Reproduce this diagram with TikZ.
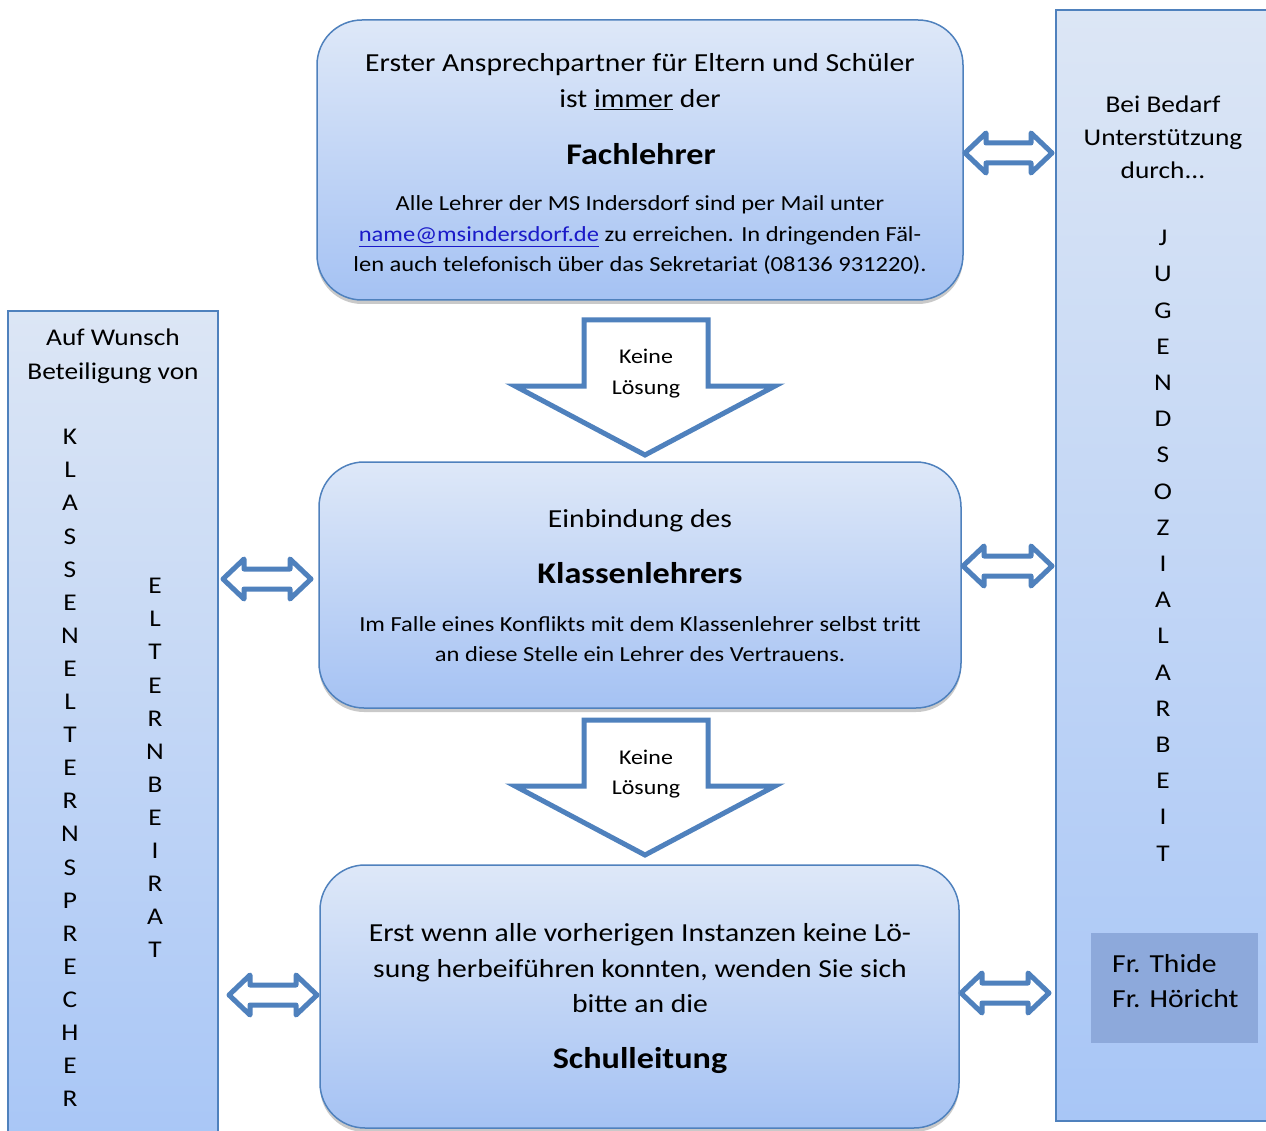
\documentclass[tikz,border=0pt]{standalone}
\usepackage{fontspec}
\setmainfont{Carlito}[FakeStretch=1.14]
\usetikzlibrary{shadows}
\definecolor{bordc}{HTML}{4F81BD}
\definecolor{topc}{HTML}{DEE8F8}
\definecolor{botc}{HTML}{A5C2F3}
\definecolor{ptopc}{HTML}{DCE6F5}
\definecolor{pbotc}{HTML}{A8C6F6}
\definecolor{frc}{HTML}{8DA9DB}
\definecolor{linkc}{HTML}{1A1AC8}
\newcommand{\fsz}[1]{\fontsize{#1}{#1}\selectfont}
\newcommand{\dblarr}[3]{%
  \draw[dblst] (#1,#3) -- ++(21,-20) -- ++(0,10) -- (#2-21,#3-10) -- ++(0,-10)
   -- (#2,#3) -- ++(-21,20) -- ++(0,-10) -- (#1+21,#3+10) -- ++(0,10) -- cycle;}
\begin{document}
\begin{tikzpicture}[x=1pt,y=-1pt,
  box/.style={draw=bordc, line width=1.5pt, rounded corners=45pt, top color=topc, bottom color=botc,
    drop shadow={shadow xshift=0pt, shadow yshift=-4pt, opacity=0.35, fill=black!60}, inner sep=0},
  panel/.style={draw=bordc, line width=1.3pt, top color=ptopc, bottom color=pbotc, inner sep=0},
  tx/.style={anchor=base, inner sep=0},
  big/.style={tx, font=\fsz{26}},
  bold/.style={tx, font=\fsz{30}\bfseries},
  small/.style={tx, font=\fsz{21.5}},
  kl/.style={tx, font=\fsz{21}},
  let/.style={inner sep=0, font=\fsz{24}},
  dblst/.style={draw=bordc, line width=5pt, line join=round, fill=white},
  downst/.style={draw=bordc, line width=5pt, line join=miter, fill=white}
]
\useasboundingbox (0,0) rectangle (1266,1131);
\fill[white] (0,0) rectangle (1266,1131);

% side panels
\node[panel, minimum width=210, minimum height=840] (lp) at (113,731) {};
\node[panel, minimum width=220, minimum height=1111] (rp) at (1166,565.5) {};
\node[fill=frc, minimum width=167, minimum height=110, inner sep=0] (fr) at (1174.5,988) {};

% main boxes
\node[box, minimum width=646, minimum height=280] (top) at (640,160) {};
\node[box, minimum width=642, minimum height=246] (mid) at (640,585) {};
\node[box, minimum width=639, minimum height=263] (bot) at (639.5,996.5) {};

% top box text
\node[big] (t1) at (640,72) {Erster Ansprechpartner für Eltern und Schüler};
\node[big] (t2) at (640,108) {ist \underline{immer} der};
\node[bold] (t3) at (641,165) {Fachlehrer};
\node[small] (t4) at (640,211) {Alle Lehrer der MS Indersdorf sind per Mail unter};
\node[small] (t5) at (640,242) {\textcolor{linkc}{\underline{name@msindersdorf.de}} zu erreichen. In dringenden Fäl-};
\node[small] (t6) at (640,272) {len auch telefonisch über das Sekretariat (08136 931220).};

% middle box text
\node[big] (m1) at (640,527) {Einbindung des};
\node[bold] (m2) at (640,583) {Klassenlehrers};
\node[small] (m3) at (640,631) {Im Falle eines Konflikts mit dem Klassenlehrer selbst tritt};
\node[small] (m4) at (640,661) {an diese Stelle ein Lehrer des Vertrauens.};

% bottom box text
\node[big] (b1) at (640,941) {Erst wenn alle vorherigen Instanzen keine Lö-};
\node[big] (b2) at (640,977) {sung herbeiführen konnten, wenden Sie sich};
\node[big] (b3) at (640,1012) {bitte an die};
\node[bold] (b4) at (640,1068) {Schulleitung};

% down arrows
\draw[downst] (584,320) -- (708,320) -- (708,386) -- (775,386) -- (645,455) -- (515,386) -- (584,386) -- cycle;
\draw[downst] (584,720) -- (708,720) -- (708,786) -- (775,786) -- (645,855) -- (515,786) -- (584,786) -- cycle;
\node[kl] (k1) at (646,364) {Keine};
\node[kl] (k2) at (646,394) {Lösung};
\node[kl] (k3) at (646,764) {Keine};
\node[kl] (k4) at (646,794) {Lösung};

% double arrows
\dblarr{965}{1052}{153}
\dblarr{223}{311}{579}
\dblarr{963}{1052}{566}
\dblarr{229}{317}{995}
\dblarr{961}{1049}{993}

% left panel text
\node[tx, font=\fsz{24}] (l1) at (113,346) {Auf Wunsch};
\node[tx, font=\fsz{24}] (l2) at (113,379) {Beteiligung von};
\foreach \l [count=\i from 0] in {K,L,A,S,S,E,N,E,L,T,E,R,N,S,P,R,E,C,H,E,R}
  \node[let] (ka\i) at (70,437+33.1*\i) {\l};
\foreach \l [count=\i from 0] in {E,L,T,E,R,N,B,E,I,R,A,T}
  \node[let] (eb\i) at (155,586+33.1*\i) {\l};

% right panel text
\node[tx, font=\fsz{24}] (r1) at (1163,113) {Bei Bedarf};
\node[tx, font=\fsz{24}] (r2) at (1163,146) {Unterstützung};
\node[tx, font=\fsz{24}] (r3) at (1163,179) {durch...};
\foreach \l [count=\i from 0] in {J,U,G,E,N,D,S,O,Z,I,A,L,A,R,B,E,I,T}
  \node[let] (ju\i) at (1163,238+36.2*\i) {\l};

\node[tx, font=\fsz{26}, anchor=base west] (f1) at (1112,972) {Fr. Thide};
\node[tx, font=\fsz{26}, anchor=base west] (f2) at (1112,1007) {Fr. Höricht};
\end{tikzpicture}
\end{document}
